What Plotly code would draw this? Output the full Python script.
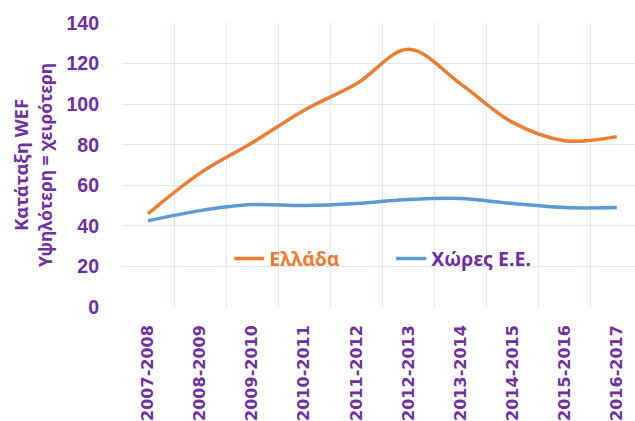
import plotly.graph_objects as go

# WEF ranking per season (higher rank = worse)
seasons = ["2007-2008", "2008-2009", "2009-2010", "2010-2011", "2011-2012",
           "2012-2013", "2013-2014", "2014-2015", "2015-2016", "2016-2017"]
greece = [46, 66, 81, 97, 110, 127, 110, 91, 82, 84]
eu_countries = [42.5, 47.5, 50.5, 50, 51, 53, 53.5, 51, 49, 49]

y_ticks = [0, 20, 40, 60, 80, 100, 120, 140]
title_lines = ["Κατάταξη WEF", "Υψηλότερη = χειρότερη"]

PURPLE = "#7030A0"
ORANGE = "#ED7D31"
BLUE = "#5B9BD5"
GRID = "#DEE8F4"

LEFT, PLOT_W = 122, 513

fig = go.Figure()
fig.add_trace(go.Scatter(
    x=seasons, y=greece, mode="lines",
    name=f"<span style='color:{ORANGE};font-weight:bold'>Ελλάδα</span>",
    line=dict(color=ORANGE, width=3.5, shape="spline", smoothing=1),
))
fig.add_trace(go.Scatter(
    x=seasons, y=eu_countries, mode="lines",
    name=f"<span style='color:{PURPLE};font-weight:bold'>Χώρες Ε.Ε.</span>",
    line=dict(color=BLUE, width=3.5, shape="spline", smoothing=1),
))

# two-line rotated y-axis title, one annotation per line
for text, px, size in zip(title_lines, [20, 45], [18.5, 17.5]):
    fig.add_annotation(
        text=text, textangle=-90, showarrow=False,
        xref="paper", yref="paper", x=(px - LEFT) / PLOT_W, y=0.5,
        xanchor="center", yanchor="middle",
        font=dict(family="Noto Sans", size=size, color=PURPLE, weight="bold"),
    )

fig.update_layout(
    width=635, height=421,
    margin=dict(l=LEFT, r=0, t=23, b=114),
    paper_bgcolor="white", plot_bgcolor="white",
    font=dict(family="Noto Sans", color=PURPLE),
    showlegend=True,
    legend=dict(
        orientation="h", x=0.209, y=0.17, xanchor="left", yanchor="middle",
        font=dict(family="Noto Sans", size=19.5, color=PURPLE, weight="bold"),
        bgcolor="rgba(0,0,0,0)", entrywidth=117, itemwidth=30,
    ),
    xaxis=dict(
        type="category", range=[-0.5, 9.35],
        tickson="boundaries", showgrid=True, gridcolor=GRID, gridwidth=1,
        ticks="", tickangle=-90, ticklabelstandoff=14,
        tickfont=dict(family="DejaVu Sans", size=16, color=PURPLE, weight="bold"),
        showline=False, zeroline=False, fixedrange=True,
    ),
    yaxis=dict(
        range=[0, 140], tickvals=y_ticks,
        showgrid=True, gridcolor=GRID, gridwidth=1,
        ticks="", ticklabelstandoff=22,
        tickfont=dict(family="Liberation Sans", size=19.5, color=PURPLE, weight="bold"),
        zeroline=False, showline=False,
    ),
)

fig.write_html("out.html")
